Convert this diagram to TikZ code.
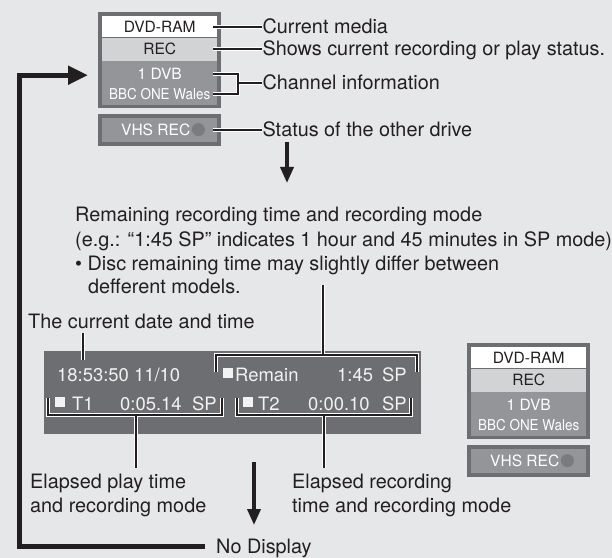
\documentclass[tikz,border=0pt]{standalone}
\usepackage{fontspec}
\setmainfont{TeX Gyre Heros}
\newfontfamily\narrowfont[FakeStretch=0.9]{TeX Gyre Heros}
\usepackage{tikz}
\usetikzlibrary{positioning,arrows.meta,calc}
\definecolor{dvdBack}{HTML}{E6E7E8}
\definecolor{dvdDark}{HTML}{6D6E71}
\definecolor{dvdLight}{HTML}{D1D3D4}
\definecolor{dvdMid}{HTML}{939598}
\definecolor{dvdDot}{HTML}{7A7B7E}
\definecolor{dvdInk}{HTML}{231F20}
\newcommand{\stopsq}{\rule[3bp]{10bp}{10bp}}
\newcommand{\statuspanel}[3]{%
  \node[frame, minimum height=96bp, anchor=north west] (#1frame) at (#2,#3) {};
  \node[panelrow, fill=white, minimum height=21bp, anchor=north] (#1dvd) at ([yshift=-4bp]#1frame.north) {DVD-RAM};
  \node[panelrow, fill=dvdLight, minimum height=23bp, below=0pt of #1dvd] (#1rec) {REC};
  \node[panelrow, fill=dvdMid, minimum height=44bp, below=0pt of #1rec] (#1chan) {};
  \node[panelrow, text=white] (#1dvb) at ([yshift=-13bp]#1chan.north) {1 DVB};
  \node[panelrow, text=white, minimum width=0pt, font=\narrowfont\fontsize{15}{16}\selectfont] (#1bbc) at ([yshift=-33bp]#1chan.north) {BBC ONE Wales};
  \node[frame, minimum height=32bp, below=5bp of #1frame] (#1vframe) {};
  \node[panelrow, fill=dvdMid, minimum height=24bp] (#1vhs) at (#1vframe) {};
  \node[panelrow, minimum width=0pt, text=white] (#1vtext) at ([xshift=-4bp]#1vhs.center) {VHS REC};
  \node[vhsdot] (#1dot) at ([xshift=-19bp]#1vhs.east) {};
}
\tikzset{
  frame/.style={fill=dvdDark, inner sep=0pt, minimum width=123bp},
  panelrow/.style={inner sep=0pt, minimum width=115bp, text=dvdInk,
    font=\fontsize{15.6}{16}\selectfont, text height=11bp, text depth=0pt},
  vhsdot/.style={circle, fill=dvdDot, inner sep=0pt, minimum size=13bp},
  lbl/.style={font=\fontsize{19.9}{24}\selectfont, text=dvdInk, inner sep=0pt,
    text height=13.5bp, text depth=0pt},
  txt/.style={lbl, anchor=base west},
  bartext/.style={font=\fontsize{18.5}{20}\selectfont, text=white!95!black,
    inner sep=0pt, anchor=base west},
  bar/.style={fill=dvdDark, inner sep=0pt, minimum width=377bp, minimum height=83bp},
  halo/.style={draw=dvdInk, line width=2bp, preaction={draw=white, line width=4bp}},
  bigarrow/.style={draw=dvdInk, line width=3.6bp, -{Triangle[length=16bp,width=13bp]}},
  looparrow/.style={draw=dvdInk, line width=5bp, -{Triangle[length=20bp,width=18bp]}}
}
\begin{document}
\begin{tikzpicture}[x=1bp, y=-1bp, node distance=45bp]
  \fill[dvdBack] (0,0) rectangle (612,558);
  \useasboundingbox (0,0) rectangle (612,558);

  \statuspanel{t}{98}{12}
  \statuspanel{b}{467}{343}

  \node[lbl, right=of tdvd] (curmedia) {Current media};
  \node[lbl, right=of trec] (recstatus) {Shows current recording or play status.};
  \node[lbl, right=of tchan] (chaninfo) {Channel information};
  \node[lbl, right=of tvhs] (otherdrive) {Status of the other drive};

  \draw[halo] ([xshift=-4bp]tdvd.east) -- (curmedia.west);
  \draw[halo] ([xshift=-4bp]trec.east) -- (recstatus.west);
  \draw[halo] ([xshift=-4bp]tchan.east |- tdvb) -| ([xshift=21bp]tchan.east) |- ([xshift=-4bp]tchan.east |- tbbc)
    ([xshift=21bp]tchan.east) -- (chaninfo.west);
  \draw[halo] ([xshift=-4bp]tvhs.east) -- (otherdrive.west);

  \coordinate (downtop) at (287,142);
  \draw[bigarrow] (downtop) -- ++(0,41);

  \node[txt] (rem1) at (75,222) {Remaining recording time and recording mode};
  \node[txt] (rem2) at (75,246) {(e.g.: “1:45 SP” indicates 1 hour and 45 minutes in SP mode)};
  \node[txt] (rem3) at (75,270) {• Disc remaining time may slightly differ between};
  \node[txt] (rem4) at (88,293) {defferent models.};
  \node[txt] (datetime) at (28,328) {The current date and time};

  \node[bar] (display) at (232.5,392.5) {};
  \node[bartext] (clock) at (57,381) {18:53:50 11/10};
  \node[bartext] (remain) at (223,381) {\stopsq\hspace{2bp}Remain};
  \node[bartext] (remtime) at (337,381) {1:45};
  \node[bartext] (remsp) at (382,381) {SP};
  \node[bartext] (tone) at (55,410) {\stopsq\hspace{7bp}T1};
  \node[bartext] (tonetime) at (120,410) {0:05.14};
  \node[bartext] (tonesp) at (192,410) {SP};
  \node[bartext] (ttwo) at (243,410) {\stopsq\hspace{5bp}T2};
  \node[bartext] (ttwotime) at (308,410) {0:00.10};
  \node[bartext] (ttwosp) at (382,410) {SP};

  \coordinate (remtop) at (323,285);
  \coordinate (dtfoot) at (83,360);
  \coordinate (playfoot) at (136,468);
  \coordinate (recfoot) at (324,468);
  \draw[halo] (datetime.south -| dtfoot) ++(0,5) -- (dtfoot);
  \draw[halo] (216,372) |- (417,355) -- (417,372) (remtop |- 0,355) -- (remtop);
  \draw[halo] (48,398) |- (222,415) -- (222,398) (playfoot |- 0,415) -- (playfoot);
  \draw[halo] (237,398) |- (411,415) -- (411,398) (recfoot |- 0,415) -- (recfoot);

  \node[txt] (playA) at (30,488) {Elapsed play time};
  \node[txt] (playB) at (30,512) {and recording mode};
  \node[txt] (recA) at (292,488) {Elapsed recording};
  \node[txt] (recB) at (292,512) {time and recording mode};
  \node[txt] (nodisp) at (216,553) {No Display};

  \coordinate (offtop) at (254,462);
  \draw[bigarrow] (offtop) -- ++(0,63);
  \draw[looparrow] ([xshift=-11bp]nodisp.west) -- ++(-186,0) |- ([xshift=-10bp,yshift=-15bp]tframe.west);
\end{tikzpicture}
\end{document}
